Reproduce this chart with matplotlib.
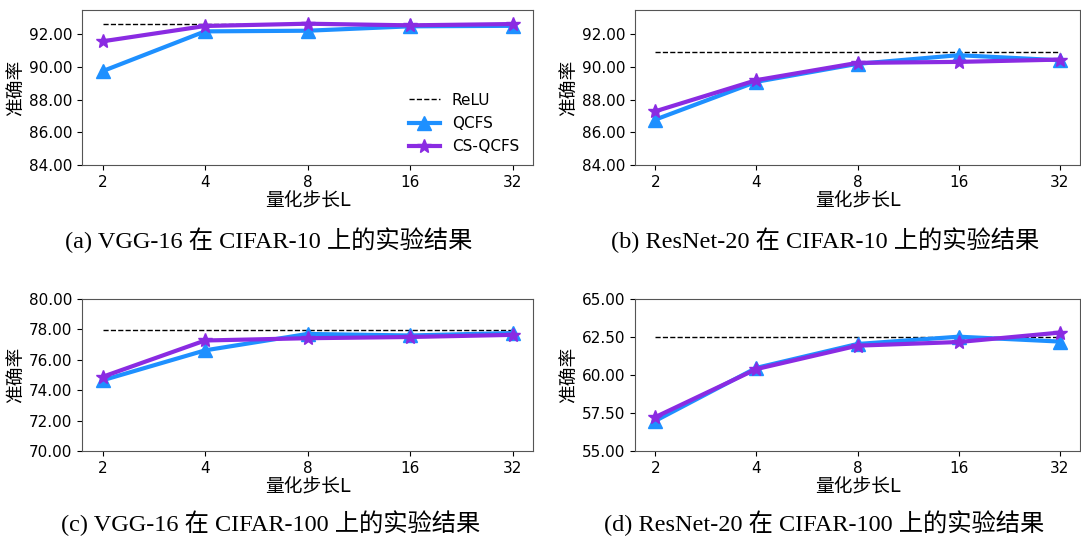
import numpy as np
import matplotlib.pyplot as plt

plt.rcParams['font.family'] = ['DejaVu Sans', 'Noto Sans CJK SC']

steps = ['2', '4', '8', '16', '32']

# (a) VGG-16 CIFAR-10
a_relu = 92.64
a_qcfs = [89.75, 92.19, 92.23, 92.50, 92.53]
a_cs = [91.58, 92.52, 92.66, 92.56, 92.64]

# (b) ResNet-20 CIFAR-10
b_relu = 90.91
b_qcfs = [86.78, 89.10, 90.20, 90.73, 90.42]
b_cs = [87.29, 89.20, 90.26, 90.32, 90.46]

# (c) VGG-16 CIFAR-100
c_relu = 77.95
c_qcfs = [74.65, 76.62, 77.70, 77.60, 77.76]
c_cs = [74.88, 77.27, 77.42, 77.50, 77.64]

# (d) ResNet-20 CIFAR-100
d_relu = 62.48
d_qcfs = [56.98, 60.47, 62.04, 62.52, 62.20]
d_cs = [57.23, 60.39, 61.93, 62.17, 62.79]

captions = ['(a) VGG-16 在 CIFAR-10 上的实验结果',
            '(b) ResNet-20 在 CIFAR-10 上的实验结果',
            '(c) VGG-16 在 CIFAR-100 上的实验结果',
            '(d) ResNet-20 在 CIFAR-100 上的实验结果']

W, H = 1081, 541
fig = plt.figure(figsize=(W / 100, H / 100), dpi=100)


def box(l, t, r, b):
    return [l / W, 1 - b / H, (r - l) / W, (b - t) / H]


panels = [
    (box(82, 10, 533, 165), a_relu, a_qcfs, a_cs, (84, 93.5), [84, 86, 88, 90, 92]),
    (box(635, 10, 1080, 165), b_relu, b_qcfs, b_cs, (84, 93.5), [84, 86, 88, 90, 92]),
    (box(82, 299, 533, 451), c_relu, c_qcfs, c_cs, (70, 80), [70, 72, 74, 76, 78, 80]),
    (box(635, 299, 1080, 451), d_relu, d_qcfs, d_cs, (55, 65), [55, 57.5, 60, 62.5, 65]),
]
cap_pos = [(269, 240), (825, 240), (271, 523), (824, 523)]

x = np.arange(len(steps))
for i, (pos, relu, qcfs, cs, ylim, yt) in enumerate(panels):
    ax = fig.add_axes(pos)
    ax.plot(x, [relu] * len(x), '--', color='black', linewidth=1, label='ReLU')
    ax.plot(x, qcfs, color='dodgerblue', linewidth=3, marker='^', markersize=10, label='QCFS')
    ax.plot(x, cs, color='blueviolet', linewidth=3, marker='*', markersize=10, label='CS-QCFS')
    ax.set_ylim(*ylim)
    ax.set_yticks(yt)
    ax.set_yticklabels(['%.2f' % v for v in yt])
    ax.set_xticks(x)
    ax.set_xticklabels(steps)
    ax.tick_params(labelsize=11)
    for s in ax.spines.values():
        s.set_color('#555555')
    ax.set_xlabel('量化步长L', fontsize=13.5, labelpad=1)
    ax.set_ylabel('准确率', fontsize=13.5, labelpad=3)
    if i == 0:
        ax.legend(loc='lower right', frameon=False, fontsize=11, labelspacing=0.55,
                  bbox_to_anchor=(1.0, -0.02))
    px, py = cap_pos[i]
    fig.text(px / W, 1 - py / H, captions[i], ha='center', va='center', fontsize=17.5,
             family=['Liberation Serif', 'Noto Sans CJK SC'])

fig.savefig('out.png', dpi=100)
